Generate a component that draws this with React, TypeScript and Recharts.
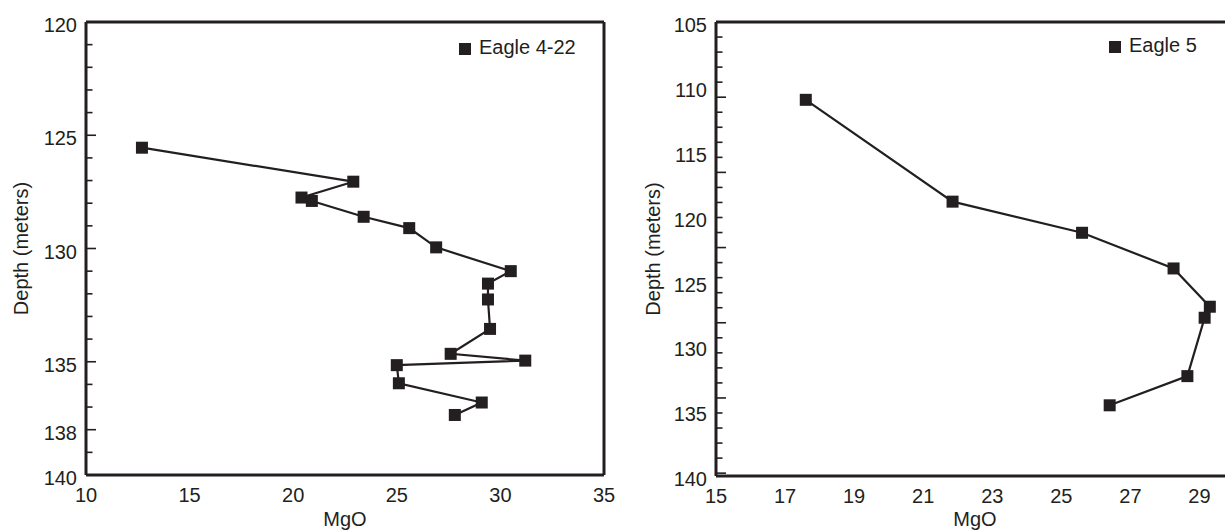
import React from "react";
import { ScatterChart, Scatter, XAxis, YAxis, Legend } from "recharts";

const INK = "#231f20";
const FONT = '"Liberation Sans", Arial, Helvetica, sans-serif';

// Eagle 4-22 core (MgO wt%, depth in meters)
const eagle422MgO = [12.7, 22.9, 20.4, 20.9, 23.4, 25.6, 26.9, 30.5, 29.4, 29.4, 29.5, 27.6, 31.2, 25.0, 25.1, 29.1, 27.8];
const eagle422Depth = [125.55, 127.05, 127.75, 127.9, 128.6, 129.1, 129.95, 131.0, 131.55, 132.25, 133.55, 134.65, 134.95, 135.15, 135.95, 136.8, 137.35];

// Eagle 5 core
const eagle5MgO = [17.6, 21.85, 25.6, 28.25, 29.3, 29.15, 28.65, 26.4];
const eagle5Depth = [111.0, 118.85, 121.25, 124.0, 126.95, 127.8, 132.3, 134.55];

// tick labels
const leftXTicks = [10, 15, 20, 25, 30, 35];
const leftYTicks = [120, 125, 130, 135, 138, 140];
const rightXTicks = [15, 17, 19, 21, 23, 25, 27, 29];
const rightYTicks = [105, 110, 115, 120, 125, 130, 135, 140];

// tick marks (drawn inside the frame)
const leftXMajor = [15, 20, 25, 30];
const leftYMajor = [125, 130, 135, 138];
const rightXMajor = [17, 19, 21, 23, 25, 27, 29];
const rightYMajor = [110, 115, 120, 125, 130, 135];

const steps = (from: number, to: number, step: number, skip: number[] = []) => {
  const out: number[] = [];
  for (let v = from; v <= to + 1e-9; v += step) {
    const r = Math.round(v * 100) / 100;
    if (!skip.includes(r)) out.push(r);
  }
  return out;
};

const blank = () => "";

// filled square marker, 12px
const SquareMarker = (props: any) => {
  const { cx, cy } = props;
  if (cx == null || cy == null) return null;
  return <rect x={cx - 6} y={cy - 6} width={12} height={12} fill={INK} />;
};

interface PanelProps {
  name: string;
  mgo: number[];
  depth: number[];
  xDomain: [number, number];
  yDomain: [number, number];
  yTickDomain: [number, number];
  xTicks: number[];
  yTicks: number[];
  xMajor: number[];
  xMinor: number[];
  yMajor: number[];
  yMinor: number[];
  xAxisHeight: number;
  xLabelOffset: number;
  yLabelOffset: number;
  legendLeft: number;
  legendTop: number;
}

function Panel(p: PanelProps) {
  const data = p.mgo.map((v, i) => ({ mgo: v, depth: p.depth[i] }));
  const frame = { stroke: INK, strokeWidth: 3 };
  const tickMark = { stroke: INK, strokeWidth: 1.6 };
  return (
    <ScatterChart width={620} height={560} margin={{ top: 21, right: 15, bottom: 0, left: 0 }}>
      <XAxis
        xAxisId="x" dataKey="mgo" type="number" domain={p.xDomain} ticks={p.xTicks} interval={0}
        allowDataOverflow height={p.xAxisHeight} tickLine={false} tickSize={0} tickMargin={13}
        axisLine={frame} tick={{ fontSize: 20, fill: INK }}
        label={{ value: "MgO", position: "insideBottom", offset: p.xLabelOffset, fontSize: 20, fill: INK }}
      />
      <XAxis
        xAxisId="xmaj" type="number" domain={p.xDomain} ticks={p.xMajor} interval={0} allowDataOverflow
        mirror height={1} axisLine={false} tickSize={10} tickLine={tickMark} tickFormatter={blank}
      />
      <XAxis
        xAxisId="xmin" type="number" domain={p.xDomain} ticks={p.xMinor} interval={0} allowDataOverflow
        mirror height={1} axisLine={false} tickSize={5.5} tickLine={tickMark} tickFormatter={blank}
      />
      <XAxis
        xAxisId="top" orientation="top" type="number" domain={p.xDomain} ticks={p.xDomain} allowDataOverflow
        height={1} tickLine={false} tickFormatter={blank} axisLine={frame}
      />
      <YAxis
        yAxisId="y" dataKey="depth" type="number" reversed domain={p.yDomain} ticks={p.yTicks} interval={0}
        allowDataOverflow width={86} tickLine={false} tickSize={0} tickMargin={9} axisLine={frame}
        tick={{ fontSize: 20, fill: INK, dy: 3 }}
        label={{
          value: "Depth (meters)", angle: -90, position: "insideLeft", offset: p.yLabelOffset,
          fontSize: 20, fill: INK, style: { textAnchor: "middle" },
        }}
      />
      <YAxis
        yAxisId="ymaj" type="number" reversed domain={p.yTickDomain} ticks={p.yMajor} interval={0}
        allowDataOverflow mirror width={1} axisLine={false} tickSize={10} tickLine={tickMark} tickFormatter={blank}
      />
      <YAxis
        yAxisId="ymin" type="number" reversed domain={p.yTickDomain} ticks={p.yMinor} interval={0}
        allowDataOverflow mirror width={1} axisLine={false} tickSize={5.5} tickLine={tickMark} tickFormatter={blank}
      />
      <YAxis
        yAxisId="right" orientation="right" type="number" reversed domain={p.yDomain} ticks={p.yDomain}
        allowDataOverflow width={1} tickLine={false} tickFormatter={blank} axisLine={frame}
      />
      <Legend
        layout="horizontal" verticalAlign="middle" align="center" iconType="square" iconSize={12}
        wrapperStyle={{ left: p.legendLeft, top: p.legendTop, width: "auto", fontSize: 20, color: INK }}
        formatter={(value: string) => <span style={{ color: INK, marginLeft: 4 }}>{value}</span>}
      />
      <Scatter
        xAxisId="x" yAxisId="y" name={p.name} data={data} fill={INK} shape={SquareMarker} legendType="square"
        line={{ stroke: INK, strokeWidth: 2.2 }} isAnimationActive={false}
      />
    </ScatterChart>
  );
}

export default function App() {
  return (
    <div
      style={{
        position: "absolute", left: 0, top: 0, width: 1225, height: 531,
        overflow: "hidden", background: "#fff", fontFamily: FONT,
      }}
    >
      <div style={{ position: "absolute", left: 0, top: 0 }}>
        <Panel
          name="Eagle 4-22" mgo={eagle422MgO} depth={eagle422Depth}
          xDomain={[10, 35]} yDomain={[120, 140]} yTickDomain={[120, 140]}
          xTicks={leftXTicks} yTicks={leftYTicks}
          xMajor={leftXMajor} xMinor={steps(11, 34, 1, leftXMajor)}
          yMajor={leftYMajor} yMinor={steps(121, 139, 1, leftYMajor)}
          xAxisHeight={85} xLabelOffset={34.5} yLabelOffset={20.5}
          legendLeft={459} legendTop={35.8}
        />
      </div>
      <div style={{ position: "absolute", left: 630, top: 0 }}>
        <Panel
          name="Eagle 5" mgo={eagle5MgO} depth={eagle5Depth}
          xDomain={[15, 30]} yDomain={[105, 140]} yTickDomain={[105, 135.19]}
          xTicks={rightXTicks} yTicks={rightYTicks}
          xMajor={rightXMajor} xMinor={steps(15.5, 30, 0.5, rightXMajor)}
          yMajor={rightYMajor} yMinor={steps(106, 135, 1, rightYMajor)}
          xAxisHeight={84} xLabelOffset={34} yLabelOffset={22.5}
          legendLeft={479} legendTop={34.3}
        />
      </div>
    </div>
  );
}
